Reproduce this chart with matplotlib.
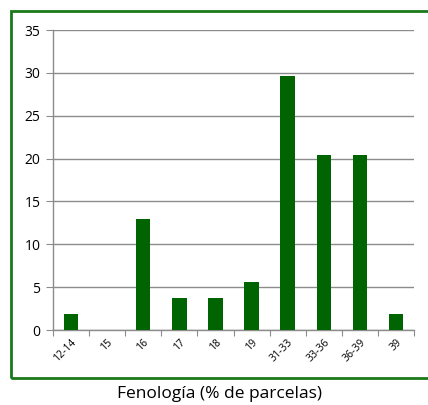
import matplotlib
matplotlib.use("Agg")
import matplotlib.pyplot as plt
from matplotlib.patches import Rectangle
import numpy as np

categories = ["12-14", "15", "16", "17", "18", "19", "31-33", "33-36", "36-39", "39"]
values = [1.85, 0.0, 12.96, 3.70, 3.70, 5.56, 29.63, 20.37, 20.37, 1.85]
yticks = [0, 5, 10, 15, 20, 25, 30, 35]
xlabel = "Fenología (% de parcelas)"

plt.rcParams['font.family'] = ['Open Sans', 'DejaVu Sans']

fig = plt.figure(figsize=(4.28, 4.05), dpi=100)
ax = fig.add_axes([53/428, 1-330/405, (414-53)/428, 300/405])

x = np.arange(len(categories))
ax.bar(x, values, width=0.4, color="#006400", zorder=3)
ax.set_xlim(-0.5, len(categories)-0.5)
ax.set_ylim(0, 35)
ax.set_yticks(yticks)
ax.set_yticklabels([str(v) for v in yticks], fontsize=10)
ax.yaxis.grid(True, color="#8c8c8c", lw=1, zorder=0)
ax.set_axisbelow(True)

ax.set_xticks(np.arange(len(categories)+1)-0.5)
ax.set_xticklabels([])
ax.set_xticks(x, minor=True)
ax.set_xticklabels(categories, minor=True, rotation=45, ha='right',
                   rotation_mode='anchor', fontsize=7.5)
ax.tick_params(axis='x', which='minor', length=0, pad=5)
ax.tick_params(axis='x', which='major', length=4, color="#8c8c8c")
ax.tick_params(axis='y', length=5, color="#8c8c8c", pad=4)

for s in ['top', 'right']:
    ax.spines[s].set_visible(False)
for s in ['left', 'bottom']:
    ax.spines[s].set_color("#8c8c8c")
    ax.spines[s].set_linewidth(1)

rect = Rectangle((11/428, 1-378/405), 1.0, (378-11)/405, transform=fig.transFigure,
                 fill=False, edgecolor="#1a7a1a", lw=2, zorder=10)
fig.patches.append(rect)

fig.text(220/428, 1-394/405, xlabel, ha='center', va='center', fontsize=12.5)

fig.savefig("out.png", dpi=100)
